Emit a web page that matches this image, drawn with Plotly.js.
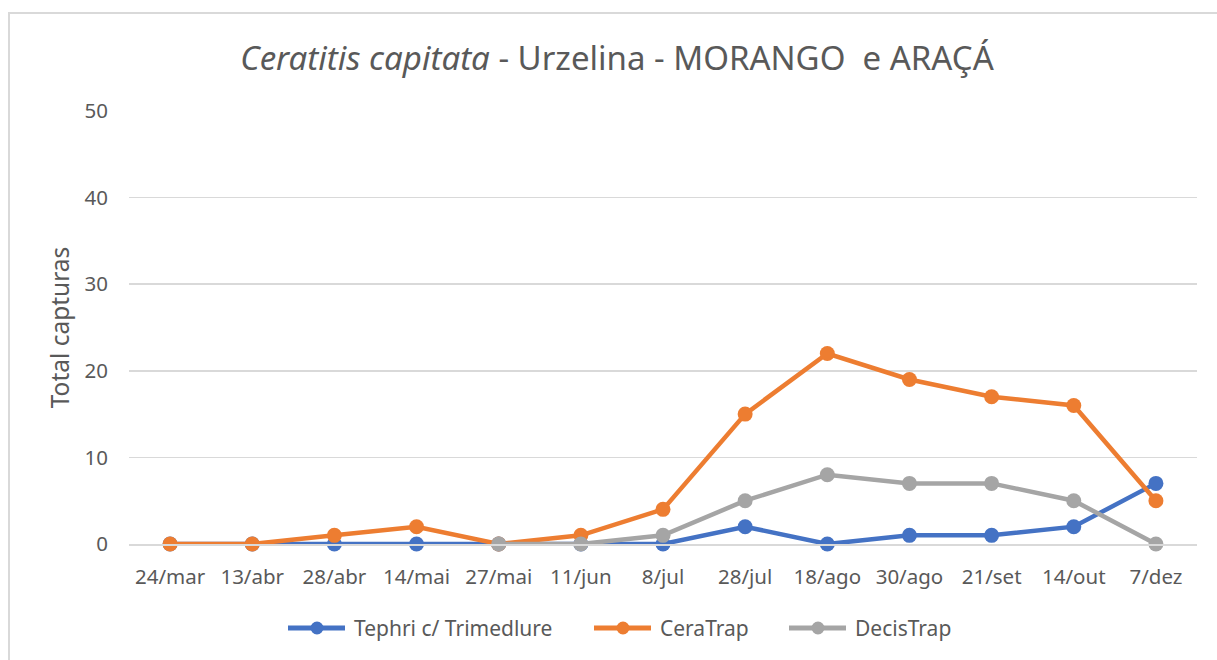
<!DOCTYPE html>
<html>
<head>
<meta charset="utf-8">
<script src="https://cdn.plot.ly/plotly-3.0.1.min.js"></script>
<style>
  html, body { margin: 0; padding: 0; background: #fff; overflow: hidden; }
  #frame { position: absolute; left: 8px; top: 12px; width: 1230px; height: 680px; border: 2px solid #d9d9d9; box-sizing: border-box; pointer-events: none; z-index: 5; }
  #chart { position: absolute; left: 0; top: 0; width: 1217px; height: 660px; }
</style>
</head>
<body>
<div id="chart"></div>
<div id="frame"></div>
<script>
const categories = ["24/mar","13/abr","28/abr","14/mai","27/mai","11/jun","8/jul","28/jul","18/ago","30/ago","21/set","14/out","7/dez"];
const tephri = [0,0,0,0,0,0,0,2,0,1,1,2,7];
const ceraTrap = [0,0,1,2,0,1,4,15,22,19,17,16,5];
const decisTrap = [null,null,null,null,0,0,1,5,8,7,7,5,0];
const seriesNames = ["Tephri c/ Trimedlure","CeraTrap","DecisTrap"];
const colors = ["#4472C4","#ED7D31","#A5A5A5"];
const yTicks = [0,10,20,30,40,50];

const font = "Noto Sans, Open Sans, sans-serif";
const W = 1217, H = 660, ML = 129, MR = 20, MT = 111, MB = 116;
const PW = W - ML - MR, PH = H - MT - MB;
function tr(y, i) {
  return {
    x: categories, y: y, name: seriesNames[i], type: "scatter", mode: "lines+markers",
    line: {color: colors[i], width: 4.5}, marker: {color: colors[i], size: 15},
    connectgaps: false, showlegend: false, cliponaxis: false
  };
}
const data = [tr(tephri,0), tr(ceraTrap,1), tr(decisTrap,2)];

// custom legend (layout decoration)
const legendStarts = [288, 594, 789];
const legendY = 628;
const px = v => (v - ML) / PW;
const py = v => (H - MB - v) / PH;
const shapes = [], annotations = [];
seriesNames.forEach((n, i) => {
  const x0 = legendStarts[i];
  shapes.push({type: "line", xref: "paper", yref: "paper", x0: px(x0), x1: px(x0 + 57), y0: py(legendY), y1: py(legendY),
    line: {color: colors[i], width: 5}});
  shapes.push({type: "circle", xref: "paper", yref: "paper", x0: px(x0 + 22.5), x1: px(x0 + 35.5), y0: py(legendY - 6.5), y1: py(legendY + 6.5),
    fillcolor: colors[i], line: {color: colors[i], width: 0}});
  annotations.push({xref: "paper", yref: "paper", x: px(x0 + 64), y: py(legendY), xanchor: "left", yanchor: "middle",
    text: n, showarrow: false, font: {size: 21, color: "#595959"}});
});

const layout = {
  width: W, height: H,
  margin: {l: ML, r: MR, t: MT, b: MB},
  paper_bgcolor: "#fff", plot_bgcolor: "#fff",
  font: {family: font, color: "#595959", size: 20},
  title: {
    text: "<i>Ceratitis capitata</i> - Urzelina - MORANGO  e ARAÇÁ",
    font: {family: font, size: 33, color: "#595959"},
    xref: "container", x: 0.507, xanchor: "center",
    yref: "container", y: 1 - 58/660, yanchor: "middle"
  },
  xaxis: {
    type: "category", range: [-0.5, 12.5], showgrid: false, zeroline: false,
    showline: true, linecolor: "#d9d9d9", linewidth: 1.5,
    ticks: "", ticklabelstandoff: 14, tickfont: {size: 20.5, color: "#595959"}
  },
  yaxis: {
    range: [0, 50], tickvals: yTicks, showgrid: true, gridcolor: "#d9d9d9", gridwidth: 1.5,
    zeroline: false, showline: false, ticks: "", ticklabelstandoff: 20,
    tickfont: {size: 20.5, color: "#595959"},
    title: {text: "Total capturas", font: {size: 24.5, color: "#595959"}, standoff: 7}
  },
  shapes: shapes,
  annotations: annotations,
  showlegend: false
};
Plotly.newPlot("chart", data, layout, {displayModeBar: false, staticPlot: true});
</script>
</body>
</html>
